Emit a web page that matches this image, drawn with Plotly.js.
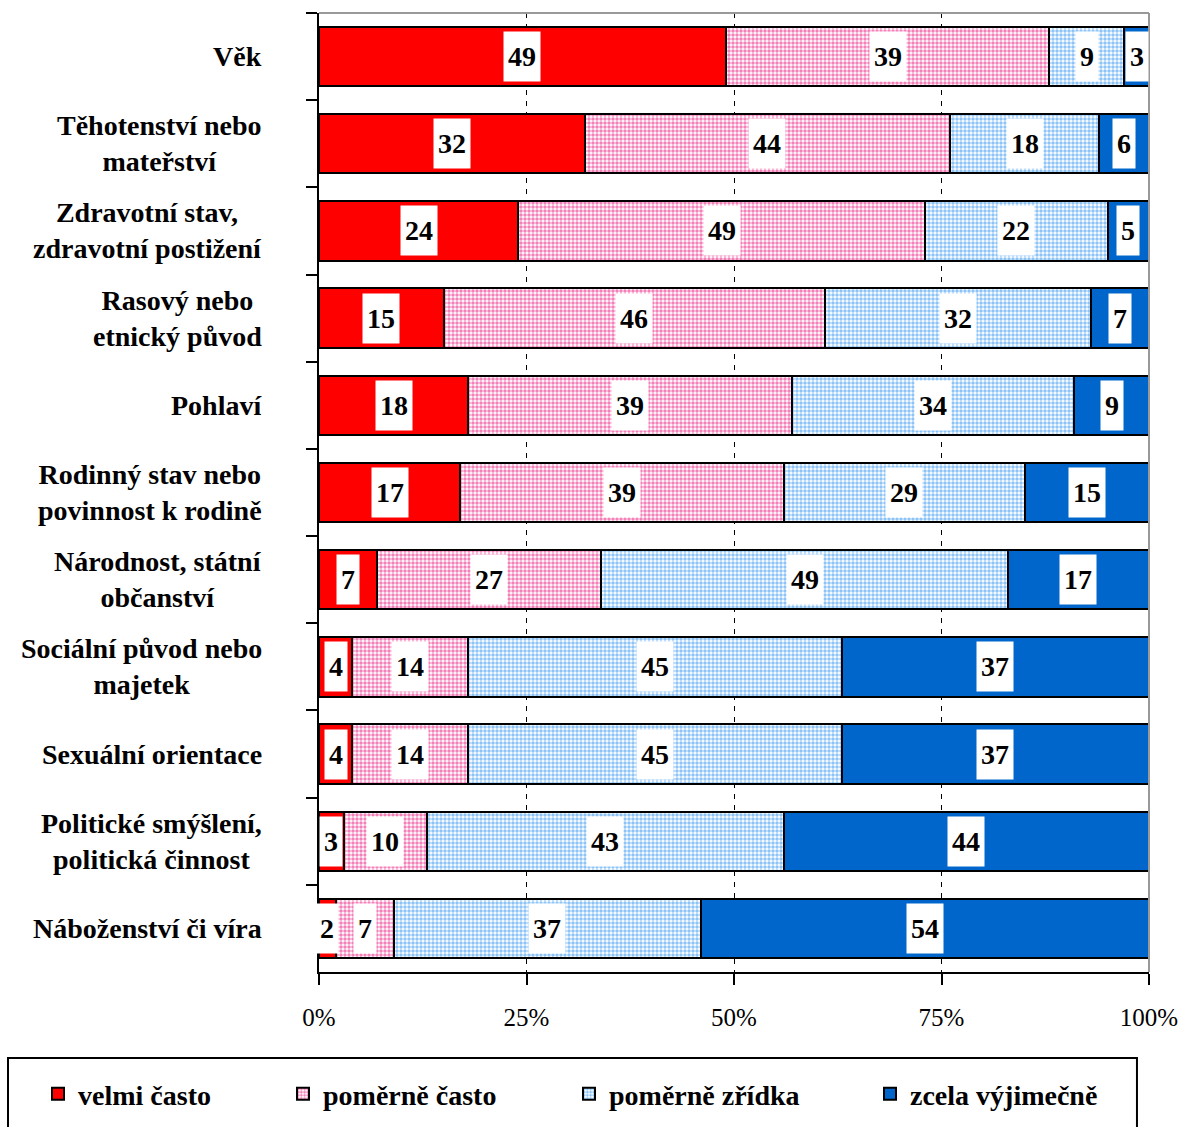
<!DOCTYPE html>
<html>
<head>
<meta charset="utf-8">
<script src="https://cdn.plot.ly/plotly-3.0.1.min.js"></script>
<style>html,body{margin:0;padding:0;background:#fff;}#chart{width:1182px;height:1127px;}</style>
</head>
<body>
<div id="chart"></div>
<script>
const categories = ['Věk','Těhotenství nebo mateřství','Zdravotní stav, zdravotní postižení','Rasový nebo etnický původ','Pohlaví','Rodinný stav nebo povinnost k rodině','Národnost, státní občanství','Sociální původ nebo majetek','Sexuální orientace','Politické smýšlení, politická činnost','Náboženství či víra'];
const categoryLabels = ['Věk','Těhotenství nebo<br>mateřství','Zdravotní stav,<br>zdravotní postižení','Rasový nebo<br>etnický původ','Pohlaví','Rodinný stav nebo<br>povinnost k rodině','Národnost, státní<br>občanství','Sociální původ nebo<br>majetek','Sexuální orientace','Politické smýšlení,<br>politická činnost','Náboženství či víra'];
const seriesNames = ['velmi často','poměrně často','poměrně zřídka','zcela výjimečně'];
const velmiCasto    = [49,32,24,15,18,17, 7, 4, 4, 3, 2];
const pomerneCasto  = [39,44,49,46,39,39,27,14,14,10, 7];
const pomerneZridka = [ 9,18,22,32,34,29,49,45,45,43,37];
const zcelaVyjimecne= [ 3, 6, 5, 7, 9,15,17,37,37,44,54];
const xTickVals = [0,25,50,75,100];
const xTickText = ['0%','25%','50%','75%','100%'];

const seriesValues = [velmiCasto, pomerneCasto, pomerneZridka, zcelaVyjimecne];
const FONT = 'Liberation Serif';
const styles = [
  {color:'#FF0000', pattern:null},
  {color:'#FFFFFF', pattern:{shape:'.', fgcolor:'#F57FB8', bgcolor:'#FFFFFF', size:4, solidity:0.6}},
  {color:'#FFFFFF', pattern:{shape:'.', fgcolor:'#8CC4F8', bgcolor:'#FFFFFF', size:4, solidity:0.6}},
  {color:'#0066CC', pattern:null}
];
const legendX = [38, 283, 569, 870];
const legendNames = ['legend','legend2','legend3','legend4'];

const traces = seriesValues.map((vals, i) => {
  const marker = {color: styles[i].color, line:{color:'#000', width:2}};
  if (styles[i].pattern) marker.pattern = styles[i].pattern;
  return {
    type:'bar', orientation:'h', name: '<b>' + seriesNames[i] + '</b>',
    x: vals, y: categories, marker: marker,
    legend: legendNames[i], hoverinfo:'skip'
  };
});

const annotations = [];
const cum = categories.map(() => 0);
seriesValues.forEach((vals) => {
  vals.forEach((v, j) => {
    annotations.push({
      x: cum[j] + v/2, y: categories[j], xref:'x', yref:'y',
      text: '<b>' + String(v) + '</b>', showarrow:false, bgcolor:'#FFFFFF',
      font:{family:FONT, size:28, color:'#000'},
      height:41, borderpad:4, xanchor:'center', yanchor:'middle'
    });
    cum[j] += v;
  });
});
categories.forEach((c, j) => {
  annotations.push({
    x:0, xref:'paper', y:c, yref:'y', xanchor:'right', yanchor:'middle',
    xshift:-55, align:'center', showarrow:false, text:'<b>'+categoryLabels[j]+'</b>',
    font:{family:FONT, size:28, color:'#000'}
  });
});

const layout = {
  width:1182, height:1127,
  margin:{l:319, r:33, t:13, b:155},
  paper_bgcolor:'#fff', plot_bgcolor:'#fff',
  barmode:'stack', bargap:0.32,
  font:{family:FONT, color:'#000'},
  xaxis:{
    range:[0,100], tickvals:xTickVals, ticktext:xTickText,
    showgrid:true, gridcolor:'#000', gridwidth:1, griddash:'5px,6px',
    showline:true, linecolor:'#000', linewidth:2,
    ticks:'outside', ticklen:11, tickwidth:2, tickcolor:'#000',
    tickfont:{family:FONT, size:25, color:'#000'}, ticklabelstandoff:11,
    zeroline:false, fixedrange:true
  },
  yaxis:{
    type:'category', categoryorder:'array', categoryarray:categories,
    autorange:'reversed', showticklabels:false,
    ticks:'outside', tickson:'boundaries', ticklen:11, tickwidth:2, tickcolor:'#000',
    showline:true, linecolor:'#000', linewidth:2, showgrid:false, zeroline:false, fixedrange:true
  },
  shapes:[
    {type:'line', xref:'paper', yref:'paper', x0:0, x1:1, y0:1, y1:1, line:{color:'#999', width:2}},
    {type:'line', xref:'paper', yref:'paper', x0:1, x1:1, y0:0, y1:1, line:{color:'#999', width:2}},
    {type:'rect', xref:'paper', yref:'paper', x0:-0.3747, x1:0.9855, y0:-0.0897, y1:-0.175, line:{color:'#000', width:2}, fillcolor:'rgba(0,0,0,0)'}
  ],
  annotations: annotations,
  showlegend:true
};
legendNames.forEach((ln, i) => {
  layout[ln] = {
    orientation:'h', xref:'container', yref:'container',
    x: legendX[i]/1182, y: 1 - 1094/1127, xanchor:'left', yanchor:'middle',
    bgcolor:'rgba(0,0,0,0)', borderwidth:0,
    font:{family:FONT, size:28, color:'#000'}
  };
});

Plotly.newPlot('chart', traces, layout, {displayModeBar:false, staticPlot:true});
</script>
</body>
</html>
